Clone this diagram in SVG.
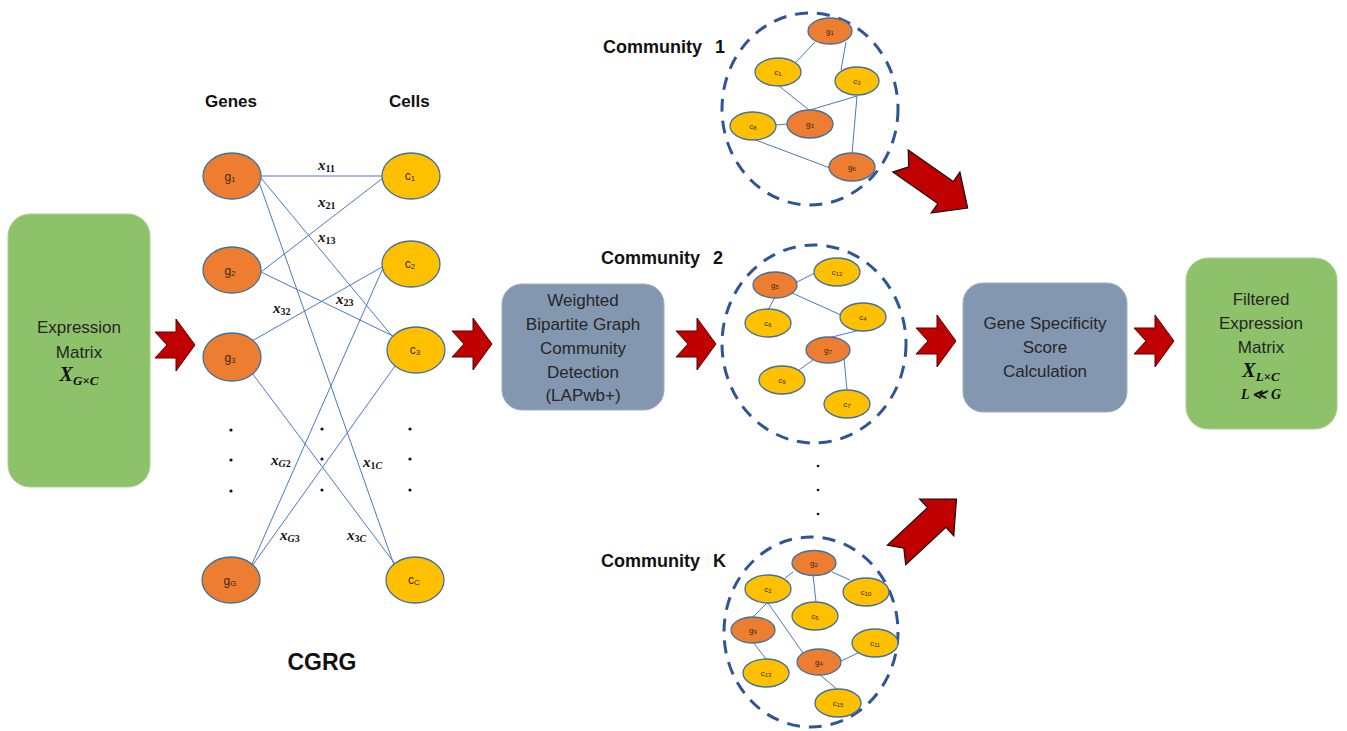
<svg xmlns="http://www.w3.org/2000/svg" width="1347" height="731" viewBox="0 0 1347 731">
<style>
.bg{fill:#ffffff}
.green{fill:#8DC16A;stroke:#A9D18E;stroke-width:1}
.slate{fill:#8497B0;stroke:#9DAEC4;stroke-width:1}
.btxt{font-family:"Liberation Sans",Arial,sans-serif;font-size:17px;fill:#262626;text-anchor:middle}
.math{font-family:"Liberation Serif","Times New Roman",serif;font-weight:bold;font-style:italic;fill:#111;text-anchor:middle}
.head{font-family:"Liberation Sans",Arial,sans-serif;font-weight:bold;fill:#111}
.gene{fill:#ED7D31;stroke:#41719C;stroke-width:1.3}
.cell{fill:#FFC000;stroke:#41719C;stroke-width:1.3}
.ntxt{font-family:"Liberation Sans",Arial,sans-serif;font-size:12px;fill:#3a2a10;text-anchor:middle}
.stxt{font-family:"Liberation Sans",Arial,sans-serif;font-size:8px;fill:#3a2a10;text-anchor:middle}
.edge{stroke:#4A78C8;stroke-width:1;fill:none}
.xl{font-family:"Liberation Serif","Times New Roman",serif;font-style:italic;font-weight:bold;font-size:15px;fill:#111}
.dot{fill:#111}
.comm{fill:none;stroke:#2F5597;stroke-width:3;stroke-dasharray:13 9}
.arrow{fill:#C00000;stroke:#5a0000;stroke-width:1}
.darrow{fill:#C00000;stroke:#111;stroke-width:1.2}
</style>
<defs>
<path id="harrow" d="M0,-13 L21,-13 L21,-26 L40,0 L21,26 L21,13 L0,13 L12,0 Z"/>
<path id="dshape" d="M0,-13.5 L55,-13.5 L55,-25 L82,0 L55,25 L55,13.5 L0,13.5 L10,0 Z"/>
</defs>
<rect class="bg" x="0" y="0" width="1347" height="731"/>

<g id="expression-matrix">
<rect class="green" x="8" y="214" width="142" height="273" rx="22"/>
<text class="btxt" x="79" y="333">Expression</text>
<text class="btxt" x="79" y="358">Matrix</text>
<text class="math" x="79" y="381"><tspan font-size="20">X</tspan><tspan font-size="13" dy="4">G×C</tspan></text>
</g>

<g id="connectors">
<line class="edge" x1="261" y1="176" x2="382" y2="176"/>
<line class="edge" x1="261" y1="178" x2="392" y2="336"/>
<line class="edge" x1="259" y1="182" x2="394" y2="565"/>
<line class="edge" x1="261" y1="272" x2="383" y2="178"/>
<line class="edge" x1="261" y1="272" x2="393" y2="336"/>
<line class="edge" x1="252" y1="341" x2="382" y2="267"/>
<line class="edge" x1="252" y1="373" x2="395" y2="564"/>
<line class="edge" x1="252" y1="564" x2="383" y2="268"/>
<line class="edge" x1="252" y1="566" x2="395" y2="366"/>
<use href="#harrow" class="arrow" x="155" y="345"/>
<use href="#harrow" class="arrow" x="452" y="344"/>
<use href="#harrow" class="arrow" x="676" y="344"/>
<use href="#harrow" class="arrow" x="916" y="341"/>
<use href="#harrow" class="arrow" x="1134" y="341"/>
<use href="#dshape" class="darrow" transform="translate(900.5,161) rotate(35)"/>
<use href="#dshape" class="darrow" transform="translate(896.5,555) rotate(-43)"/>
</g>

<g id="cgrg-labels">
<text class="head" x="205" y="107" font-size="17">Genes</text>
<text class="head" x="389" y="107" font-size="17">Cells</text>
<text class="head" x="322" y="670" font-size="23" text-anchor="middle">CGRG</text>
<text class="xl" x="318" y="170">x<tspan font-size="10" font-style="normal" dy="2">11</tspan></text>
<text class="xl" x="318" y="207">x<tspan font-size="10" font-style="normal" dy="2">21</tspan></text>
<text class="xl" x="318" y="242">x<tspan font-size="10" font-style="normal" dy="2">13</tspan></text>
<text class="xl" x="336" y="304">x<tspan font-size="10" font-style="normal" dy="2">23</tspan></text>
<text class="xl" x="273" y="313">x<tspan font-size="10" font-style="normal" dy="2">32</tspan></text>
<text class="xl" x="271" y="465">x<tspan font-size="10" dy="2">G</tspan><tspan font-size="10" font-style="normal">2</tspan></text>
<text class="xl" x="363" y="467">x<tspan font-size="10" font-style="normal" dy="2">1</tspan><tspan font-size="10">C</tspan></text>
<text class="xl" x="280" y="540">x<tspan font-size="10" dy="2">G</tspan><tspan font-size="10" font-style="normal">3</tspan></text>
<text class="xl" x="347" y="540">x<tspan font-size="10" font-style="normal" dy="2">3</tspan><tspan font-size="10">C</tspan></text>
<circle class="dot" cx="231" cy="430" r="1.6"/><circle class="dot" cx="231" cy="460" r="1.6"/><circle class="dot" cx="231" cy="491" r="1.6"/>
<circle class="dot" cx="322" cy="429" r="1.6"/><circle class="dot" cx="322" cy="459" r="1.6"/><circle class="dot" cx="322" cy="490" r="1.6"/>
<circle class="dot" cx="410" cy="429" r="1.6"/><circle class="dot" cx="410" cy="459" r="1.6"/><circle class="dot" cx="410" cy="490" r="1.6"/>
</g>

<g id="node-g1"><ellipse class="gene" cx="232" cy="176" rx="29" ry="23"/><text class="ntxt" x="230" y="181">g<tspan font-size="8" dy="1">1</tspan></text></g>
<g id="node-g2"><ellipse class="gene" cx="232" cy="270" rx="29" ry="23"/><text class="ntxt" x="230" y="275">g<tspan font-size="8" dy="1">2</tspan></text></g>
<g id="node-g3"><ellipse class="gene" cx="232" cy="357" rx="29" ry="24"/><text class="ntxt" x="230" y="362">g<tspan font-size="8" dy="1">3</tspan></text></g>
<g id="node-gG"><ellipse class="gene" cx="231" cy="580" rx="29" ry="23"/><text class="ntxt" x="230" y="585">g<tspan font-size="8" dy="1">G</tspan></text></g>
<g id="node-c1"><ellipse class="cell" cx="411" cy="176" rx="29" ry="23"/><text class="ntxt" x="410" y="180">c<tspan font-size="8" dy="1">1</tspan></text></g>
<g id="node-c2"><ellipse class="cell" cx="411" cy="264" rx="29" ry="23"/><text class="ntxt" x="410" y="268">c<tspan font-size="8" dy="1">2</tspan></text></g>
<g id="node-c3"><ellipse class="cell" cx="416" cy="350" rx="29" ry="23"/><text class="ntxt" x="415" y="354">c<tspan font-size="8" dy="1">3</tspan></text></g>
<g id="node-cC"><ellipse class="cell" cx="415" cy="580" rx="29" ry="23"/><text class="ntxt" x="414" y="584">c<tspan font-size="8" dy="1">C</tspan></text></g>

<g id="community-detection">
<rect class="slate" x="502" y="284" width="162" height="126" rx="20"/>
<text class="btxt" x="583" y="306">Weighted</text>
<text class="btxt" x="583" y="330">Bipartite Graph</text>
<text class="btxt" x="583" y="354">Community</text>
<text class="btxt" x="583" y="378">Detection</text>
<text class="btxt" x="583" y="401">(LAPwb+)</text>
</g>

<g id="community-1">
<text class="head" x="603" y="53" font-size="18" word-spacing="8">Community 1</text>
<ellipse class="comm" cx="810" cy="109" rx="88" ry="96"/>
<line class="edge" x1="815" y1="42" x2="796" y2="62"/>
<line class="edge" x1="846" y1="42" x2="841" y2="70"/>
<line class="edge" x1="779" y1="86" x2="809" y2="110"/>
<line class="edge" x1="857" y1="96" x2="810" y2="110"/>
<line class="edge" x1="857" y1="96" x2="852" y2="154"/>
<line class="edge" x1="776" y1="125" x2="787" y2="124"/>
<line class="edge" x1="753" y1="139" x2="830" y2="168"/>
<ellipse class="gene" cx="830" cy="31" rx="22" ry="13"/><text class="stxt" x="830" y="34">g<tspan font-size="6" dy="1">1</tspan></text>
<ellipse class="cell" cx="778" cy="72" rx="23" ry="14"/><text class="stxt" x="778" y="75">c<tspan font-size="6" dy="1">1</tspan></text>
<ellipse class="cell" cx="857" cy="81" rx="22" ry="14"/><text class="stxt" x="857" y="84">c<tspan font-size="6" dy="1">3</tspan></text>
<ellipse class="cell" cx="753" cy="126" rx="23" ry="14"/><text class="stxt" x="753" y="129">c<tspan font-size="6" dy="1">8</tspan></text>
<ellipse class="gene" cx="810" cy="124" rx="23" ry="14"/><text class="stxt" x="810" y="127">g<tspan font-size="6" dy="1">3</tspan></text>
<ellipse class="gene" cx="852" cy="167" rx="23" ry="14"/><text class="stxt" x="852" y="170">g<tspan font-size="6" dy="1">6</tspan></text>
</g>

<g id="community-2">
<text class="head" x="601" y="264" font-size="18" word-spacing="8">Community 2</text>
<ellipse class="comm" cx="814" cy="344" rx="92" ry="99"/>
<line class="edge" x1="797" y1="282" x2="815" y2="273"/>
<line class="edge" x1="775" y1="297" x2="768" y2="310"/>
<line class="edge" x1="792" y1="293" x2="841" y2="315"/>
<line class="edge" x1="860" y1="330" x2="828" y2="338"/>
<line class="edge" x1="813" y1="360" x2="799" y2="370"/>
<line class="edge" x1="844" y1="358" x2="847" y2="390"/>
<ellipse class="gene" cx="775" cy="285" rx="22" ry="13"/><text class="stxt" x="775" y="288">g<tspan font-size="6" dy="1">5</tspan></text>
<ellipse class="cell" cx="837" cy="272" rx="23" ry="14"/><text class="stxt" x="837" y="275">c<tspan font-size="6" dy="1">12</tspan></text>
<ellipse class="cell" cx="768" cy="323" rx="23" ry="14"/><text class="stxt" x="768" y="326">c<tspan font-size="6" dy="1">6</tspan></text>
<ellipse class="cell" cx="863" cy="317" rx="23" ry="14"/><text class="stxt" x="863" y="320">c<tspan font-size="6" dy="1">4</tspan></text>
<ellipse class="gene" cx="828" cy="350" rx="22" ry="13"/><text class="stxt" x="828" y="353">g<tspan font-size="6" dy="1">7</tspan></text>
<ellipse class="cell" cx="782" cy="380" rx="23" ry="14"/><text class="stxt" x="782" y="383">c<tspan font-size="6" dy="1">9</tspan></text>
<ellipse class="cell" cx="847" cy="404" rx="23" ry="14"/><text class="stxt" x="847" y="407">c<tspan font-size="6" dy="1">7</tspan></text>
</g>

<g id="ellipsis-dots">
<circle class="dot" cx="818" cy="466" r="1.3"/><circle class="dot" cx="818" cy="490" r="1.3"/><circle class="dot" cx="818" cy="514" r="1.3"/>
</g>

<g id="community-K">
<text class="head" x="601" y="567" font-size="18" word-spacing="8">Community K</text>
<ellipse class="comm" cx="811" cy="632" rx="87" ry="95"/>
<line class="edge" x1="793" y1="572" x2="785" y2="578"/>
<line class="edge" x1="832" y1="572" x2="850" y2="580"/>
<line class="edge" x1="813" y1="575" x2="816" y2="602"/>
<line class="edge" x1="767" y1="603" x2="752" y2="618"/>
<line class="edge" x1="768" y1="603" x2="803" y2="653"/>
<line class="edge" x1="753" y1="642" x2="766" y2="659"/>
<line class="edge" x1="841" y1="661" x2="858" y2="653"/>
<line class="edge" x1="820" y1="675" x2="837" y2="689"/>
<ellipse class="gene" cx="814" cy="563" rx="22" ry="12.5"/><text class="stxt" x="814" y="566">g<tspan font-size="6" dy="1">2</tspan></text>
<ellipse class="cell" cx="768" cy="589" rx="23" ry="14"/><text class="stxt" x="768" y="592">c<tspan font-size="6" dy="1">2</tspan></text>
<ellipse class="cell" cx="866" cy="592" rx="23" ry="14"/><text class="stxt" x="866" y="595">c<tspan font-size="6" dy="1">10</tspan></text>
<ellipse class="cell" cx="815" cy="616" rx="23" ry="14"/><text class="stxt" x="815" y="619">c<tspan font-size="6" dy="1">5</tspan></text>
<ellipse class="gene" cx="753" cy="630" rx="22" ry="13"/><text class="stxt" x="753" y="633">g<tspan font-size="6" dy="1">9</tspan></text>
<ellipse class="cell" cx="875" cy="643" rx="23" ry="14"/><text class="stxt" x="875" y="646">c<tspan font-size="6" dy="1">11</tspan></text>
<ellipse class="gene" cx="819" cy="662" rx="22" ry="13"/><text class="stxt" x="819" y="665">g<tspan font-size="6" dy="1">4</tspan></text>
<ellipse class="cell" cx="766" cy="673" rx="23" ry="14"/><text class="stxt" x="766" y="676">c<tspan font-size="6" dy="1">13</tspan></text>
<ellipse class="cell" cx="838" cy="703" rx="23" ry="14"/><text class="stxt" x="838" y="706">c<tspan font-size="6" dy="1">15</tspan></text>
</g>

<g id="gene-specificity">
<rect class="slate" x="963" y="283" width="164" height="129" rx="20"/>
<text class="btxt" x="1045" y="329">Gene Specificity</text>
<text class="btxt" x="1045" y="353">Score</text>
<text class="btxt" x="1045" y="377">Calculation</text>
</g>

<g id="filtered-matrix">
<rect class="green" x="1186" y="258" width="151" height="171" rx="22"/>
<text class="btxt" x="1261" y="305">Filtered</text>
<text class="btxt" x="1261" y="329">Expression</text>
<text class="btxt" x="1261" y="353">Matrix</text>
<text class="math" x="1261" y="377"><tspan font-size="20">X</tspan><tspan font-size="13" dy="4">L×C</tspan></text>
<text class="math" x="1261" y="399" font-size="14">L ≪ G</text>
</g>
</svg>
